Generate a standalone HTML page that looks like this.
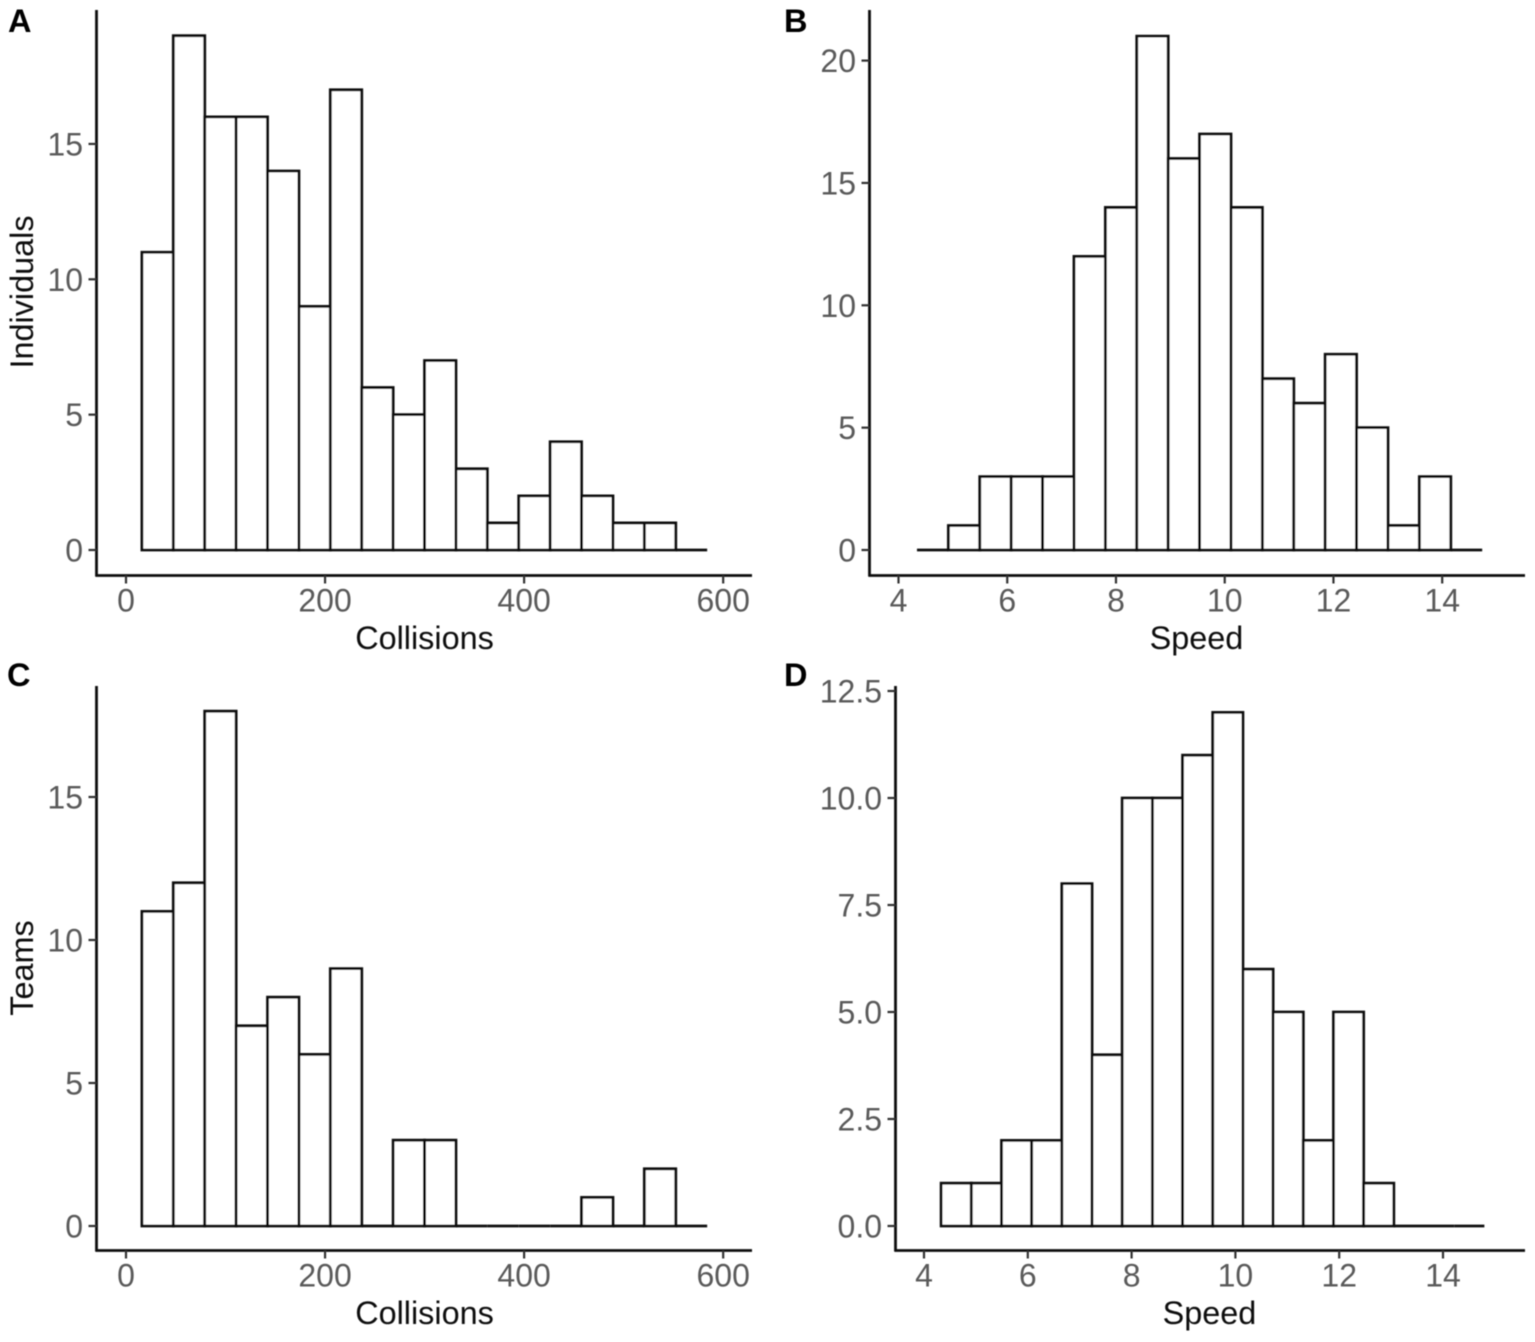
<!DOCTYPE html>
<html lang="en">
<head>
<meta charset="utf-8">
<title>Histograms of collisions and speed</title>
<style>
html,body{margin:0;padding:0;background:#fff;}
svg{display:block;}
text{font-family:"Liberation Sans",Arial,sans-serif;}
</style>
</head>
<body>
<svg id="chart" xmlns="http://www.w3.org/2000/svg" width="1535" height="1342" viewBox="0 0 1535 1342">
<defs><filter id="soft" x="-2%" y="-2%" width="104%" height="104%"><feGaussianBlur stdDeviation="0.5"/></filter></defs>
<rect width="1535" height="1342" fill="#fff"/>
<g id="root" filter="url(#soft)"></g>
</svg>
<script>
const collisionTicks = [0, 200, 400, 600];
const speedTicks = [4, 6, 8, 10, 12, 14];
const individualCollisionCounts = [11, 19, 16, 16, 14, 9, 17, 6, 5, 7, 3, 1, 2, 4, 2, 1, 1, 0];
const individualSpeedCounts = [0, 1, 3, 3, 3, 12, 14, 21, 16, 17, 14, 7, 6, 8, 5, 1, 3, 0];
const teamCollisionCounts = [11, 12, 18, 7, 8, 6, 9, 0, 3, 3, 0, 0, 0, 0, 1, 0, 2, 0];
const teamSpeedCounts = [1, 1, 2, 2, 8, 4, 10, 10, 11, 12, 6, 5, 2, 5, 1, 0, 0, 0];
const individualCollisionYTicks = [0, 5, 10, 15];
const individualSpeedYTicks = [0, 5, 10, 15, 20];
const teamCollisionYTicks = [0, 5, 10, 15];
const teamSpeedYTicks = ["0.0", "2.5", "5.0", "7.5", "10.0", "12.5"];
const collisionBinStart = 16;
const collisionBinWidth = 31.55;
const individualSpeedBinStart = 4.34;
const individualSpeedBinWidth = 0.5775;
const teamSpeedBinStart = 4.33;
const teamSpeedBinWidth = 0.5815;

const NS = 'http://www.w3.org/2000/svg';
const root = document.getElementById('root');

function make(tag, attrs, parent, text) {
  const el = document.createElementNS(NS, tag);
  for (const k in attrs) el.setAttribute(k, attrs[k]);
  if (text !== undefined) el.textContent = text;
  parent.appendChild(el);
  return el;
}

function drawPanel(p) {
  const g = make('g', {}, root);
  
  

  const xScale = v => p.xPx0 + (v - p.xV0) * p.xUnit;
  const yScale = v => p.yPx0 - v * p.yUnit;

  // bars: paths so that empty bins still stroke a baseline segment
  p.counts.forEach((c, i) => {
    const x0 = xScale(p.binStart + i * p.binWidth);
    const x1 = xScale(p.binStart + (i + 1) * p.binWidth);
    const y = yScale(c);
    const d = 'M' + x0 + ' ' + p.yPx0 + 'V' + y + 'H' + x1 + 'V' + p.yPx0 + 'Z';
    const bar = make('path', {d: d, fill: '#fff', stroke: '#111', 'stroke-width': 2.8, 'stroke-linejoin': 'miter'}, g);
    
    
  });

  // axis lines
  const yAxis = make('line', {x1: p.left, x2: p.left, y1: p.top, y2: p.bottom + 1, stroke: '#111', 'stroke-width': 2.8}, g);
  
  
  const xAxis = make('line', {x1: p.left - 1, x2: p.right, y1: p.bottom, y2: p.bottom, stroke: '#111', 'stroke-width': 2.8}, g);
  
  

  // x ticks
  p.xTicks.forEach(v => {
    const x = xScale(v);
    const t = make('line', {x1: x, x2: x, y1: p.bottom, y2: p.bottom + 8, stroke: '#333', 'stroke-width': 2.2}, g);
    
    
    const l = make('text', {x: x, y: p.bottom + 36, 'text-anchor': 'middle', 'font-size': 32, fill: '#5a5a5a'}, g, String(v));
    
    
  });

  // y ticks
  p.yTicks.forEach(v => {
    const y = yScale(parseFloat(v));
    const t = make('line', {x1: p.left - 8, x2: p.left, y1: y, y2: y, stroke: '#333', 'stroke-width': 2.2}, g);
    
    
    const l = make('text', {x: p.left - 13.5, y: y + 11.5, 'text-anchor': 'end', 'font-size': 32, fill: '#5a5a5a'}, g, String(v));
    
    
  });

  // titles
  const xt = make('text', {x: p.xTitleX, y: p.bottom + 73.5, 'text-anchor': 'middle', 'font-size': 32.4, fill: '#111'}, g, p.xTitle);
  
  
  if (p.yTitle) {
    const yt = make('text', {x: 0, y: 0, 'text-anchor': 'middle', 'font-size': 32.4, fill: '#111', transform: 'translate(33,' + p.yTitleY + ') rotate(-90)'}, g, p.yTitle);
    
    
  }

  // panel tag
  const tag = make('text', {x: p.tagX, y: p.tagY, 'font-size': 32.5, 'font-weight': 700, fill: '#000'}, g, p.tag);
  
  
}

drawPanel({id: 'individual-collisions', tag: 'A', tagX: 8, tagY: 32, counts: individualCollisionCounts,
  binStart: collisionBinStart, binWidth: collisionBinWidth, xTicks: collisionTicks, yTicks: individualCollisionYTicks,
  xV0: 0, xPx0: 126, xUnit: 0.9953, yPx0: 550, yUnit: 27.07,
  left: 96.5, right: 752, top: 10, bottom: 575.5, xTitle: 'Collisions', xTitleX: 424.5, yTitle: 'Individuals', yTitleY: 292});
drawPanel({id: 'individual-speed', tag: 'B', tagX: 784, tagY: 32, counts: individualSpeedCounts,
  binStart: individualSpeedBinStart, binWidth: individualSpeedBinWidth, xTicks: speedTicks, yTicks: individualSpeedYTicks,
  xV0: 4, xPx0: 898.5, xUnit: 54.37, yPx0: 550, yUnit: 24.47,
  left: 869.5, right: 1525, top: 10, bottom: 575.5, xTitle: 'Speed', xTitleX: 1196.5});
drawPanel({id: 'team-collisions', tag: 'C', tagX: 7, tagY: 686, counts: teamCollisionCounts,
  binStart: collisionBinStart, binWidth: collisionBinWidth, xTicks: collisionTicks, yTicks: teamCollisionYTicks,
  xV0: 0, xPx0: 126, xUnit: 0.9953, yPx0: 1226, yUnit: 28.6,
  left: 96.5, right: 752, top: 686, bottom: 1250.5, xTitle: 'Collisions', xTitleX: 424.5, yTitle: 'Teams', yTitleY: 968});
drawPanel({id: 'team-speed', tag: 'D', tagX: 784, tagY: 686, counts: teamSpeedCounts,
  binStart: teamSpeedBinStart, binWidth: teamSpeedBinWidth, xTicks: speedTicks, yTicks: teamSpeedYTicks,
  xV0: 4, xPx0: 924, xUnit: 51.9, yPx0: 1226, yUnit: 42.8,
  left: 895.5, right: 1525, top: 686, bottom: 1250.5, xTitle: 'Speed', xTitleX: 1209.5});
</script>
</body>
</html>
